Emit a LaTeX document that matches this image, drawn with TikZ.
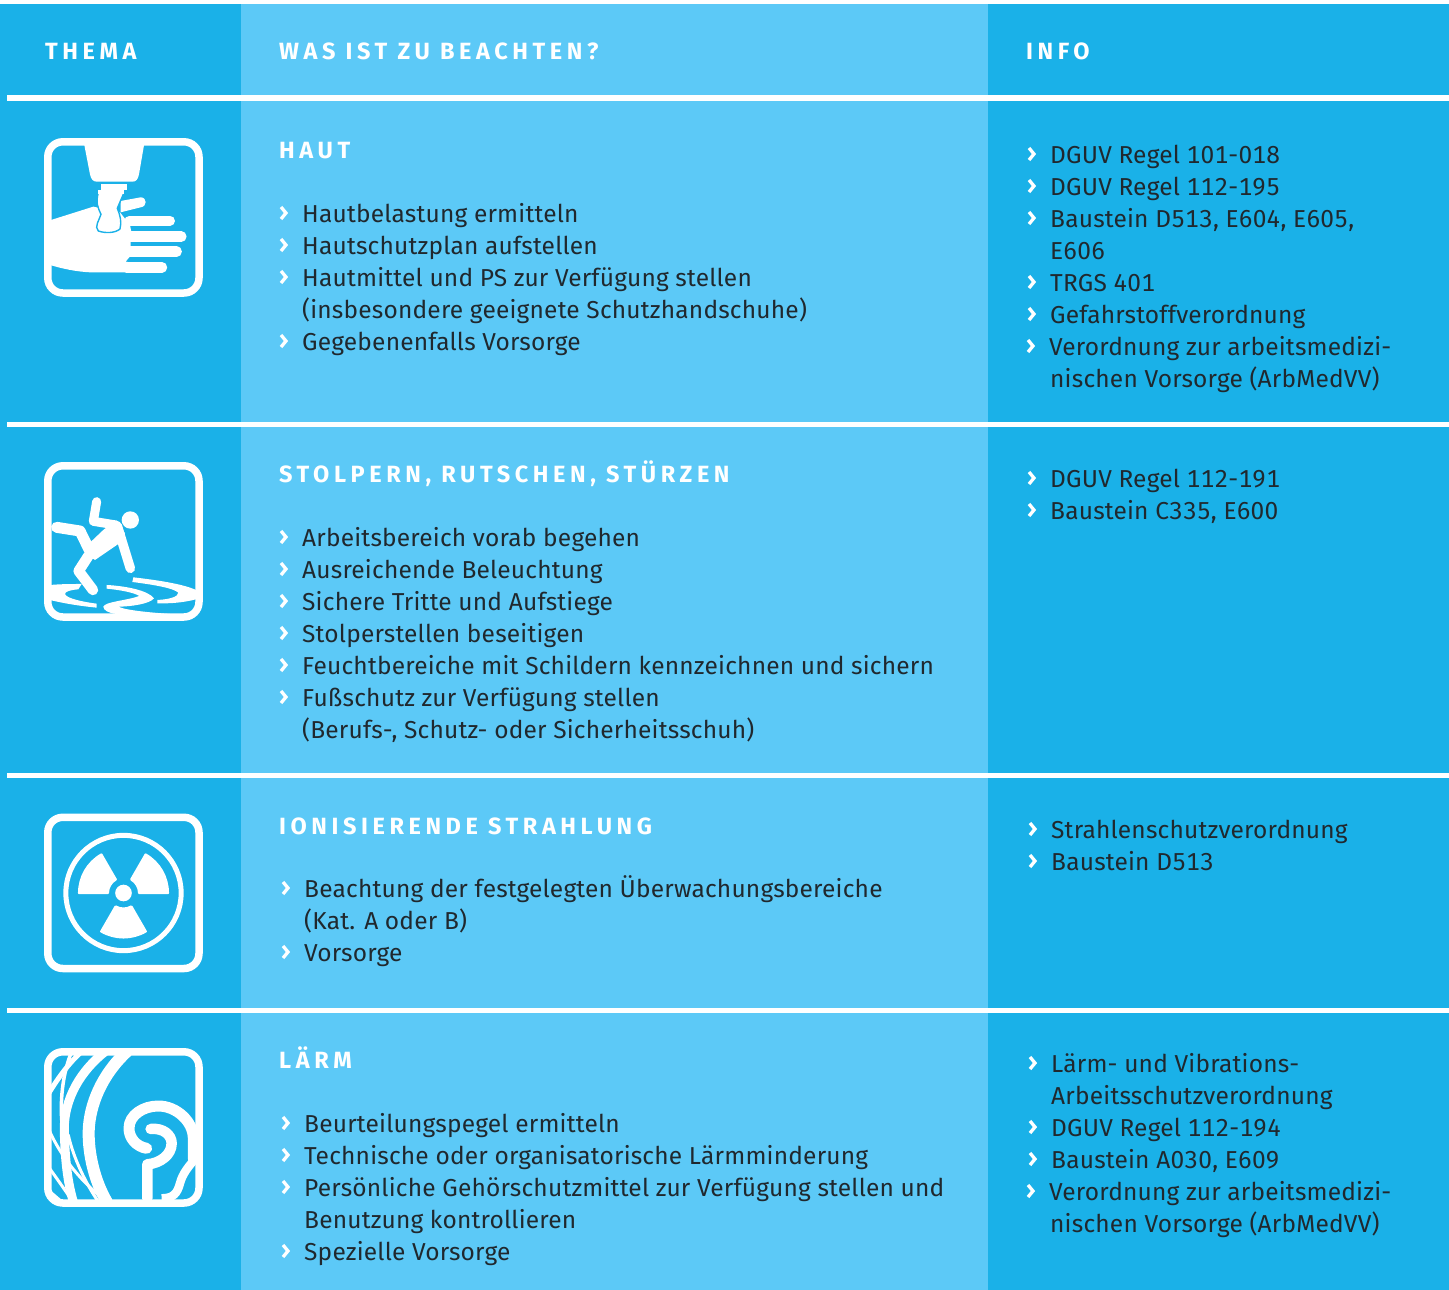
\documentclass[tikz,border=0pt]{standalone}
\usepackage{fontspec}
\setmainfont{Fira Sans}
\newfontfamily\bodyf[LetterSpace=0.8,Numbers=Monospaced]{Fira Sans}
\newfontfamily\headf[LetterSpace=19.5]{Fira Sans}
\definecolor{dk}{HTML}{1AB1E8}
\definecolor{lt}{HTML}{5CC9F7}
\definecolor{ink}{HTML}{20282E}
\tikzset{
  bodytext/.style={anchor=base west,inner sep=0pt,text=ink,font=\bodyf\fontsize{24.5}{30}\selectfont},
  headtext/.style={anchor=base west,inner sep=0pt,text=white,font=\headf\bfseries\fontsize{23.5}{28}\selectfont},
  chev/.style={draw=white,line width=3.3pt,miter limit=10},
  rulebar/.style={fill=white},
  iconbox/.style={draw=white,line width=7.5pt,rounded corners=15pt},
  wh/.style={fill=white,draw=none},
  ws/.style={draw=white,line cap=round,line join=round},
  zoomed/.style={shift={(#1)},x=0.3333pt,y=-0.3333pt},
}
\newcount\tn
\newcommand{\tl}[3]{\global\advance\tn by 1 \node[bodytext] (t\the\tn) at (#1,#2) {#3};}
\newcommand{\li}[3]{\draw[chev] (#1-21,#2-15)--(#1-16,#2-9)--(#1-21,#2-3); \tl{#1}{#2}{#3}}
\newcommand{\hd}[3]{\global\advance\tn by 1 \node[headtext] (t\the\tn) at (#1,#2) {#3};}
\newcommand{\ibox}[1]{\draw[iconbox] (47.8,#1+3.8) rectangle (199,#1+155);}
\begin{document}
\begin{tikzpicture}[x=1pt,y=-1pt]
\useasboundingbox (0,0) rectangle (1449,1290);
\fill[white] (0,0) rectangle (1449,1290);
\fill[dk] (0,4) rectangle (241,1290);
\fill[lt] (241,4) rectangle (988,1290);
\fill[dk] (988,4) rectangle (1449,1290);
\foreach \yy in {95,421.5,772.5,1007.5}{\fill[rulebar] (7,\yy) rectangle (1449,\yy+5.5);}

% header
\hd{45}{59.5}{THEMA}
\hd{279}{59.5}{WAS IST ZU BEACHTEN?}
\hd{1026}{59.5}{INFO}

% section 1
\hd{279}{158.5}{HAUT}
\li{302}{222}{Hautbelastung ermitteln}
\li{302}{254}{Hautschutzplan aufstellen}
\li{302}{286}{Hautmittel und PS zur Verfügung stellen}
\tl{302}{318}{(insbesondere geeignete Schutzhandschuhe)}
\li{302}{350}{Gegebenenfalls Vorsorge}
\li{1050}{163}{DGUV Regel 101-018}
\li{1050}{195}{DGUV Regel 112-195}
\li{1050}{227}{Baustein D513, E604, E605,}
\tl{1050}{259}{E606}
\li{1050}{291}{TRGS 401}
\li{1050}{323}{Gefahrstoffverordnung}
\li{1049}{355}{Verordnung zur arbeitsmedizi-}
\tl{1050}{387}{nischen Vorsorge (ArbMedVV)}

% section 2
\hd{279}{482.5}{STOLPERN, RUTSCHEN, STÜRZEN}
\li{302}{546}{Arbeitsbereich vorab begehen}
\li{302}{578}{Ausreichende Beleuchtung}
\li{302}{610}{Sichere Tritte und Aufstiege}
\li{302}{642}{Stolperstellen beseitigen}
\li{302}{674}{Feuchtbereiche mit Schildern kennzeichnen und sichern}
\li{302}{706}{Fußschutz zur Verfügung stellen}
\tl{302}{738}{(Berufs-, Schutz- oder Sicherheitsschuh)}
\li{1050}{487}{DGUV Regel 112-191}
\li{1050}{519}{Baustein C335, E600}

% section 3
\hd{279}{834.5}{IONISIERENDE STRAHLUNG}
\li{304}{897}{Beachtung der festgelegten Überwachungsbereiche}
\tl{304}{929}{(Kat. A oder B)}
\li{304}{961}{Vorsorge}
\li{1051}{838}{Strahlenschutzverordnung}
\li{1051}{870}{Baustein D513}

% section 4
\hd{279}{1068.5}{LÄRM}
\li{304}{1132}{Beurteilungspegel ermitteln}
\li{304}{1164}{Technische oder organisatorische Lärmminderung}
\li{304}{1196}{Persönliche Gehörschutzmittel zur Verfügung stellen und}
\tl{304}{1228}{Benutzung kontrollieren}
\li{304}{1260}{Spezielle Vorsorge}
\li{1051}{1072}{Lärm- und Vibrations-}
\tl{1051}{1104}{Arbeitsschutzverordnung}
\li{1051}{1136}{DGUV Regel 112-194}
\li{1051}{1168}{Baustein A030, E609}
\li{1049}{1200}{Verordnung zur arbeitsmedizi-}
\tl{1050}{1232}{nischen Vorsorge (ArbMedVV)}

% icon 1: hand
\begin{scope}[zoomed={30pt,-125pt}]
\fill[white] (162,55) -- (343,55) -- (327,148) .. controls (324,163) and (318,170) .. (308,170) -- (200,170) .. controls (190,170) and (183,163) .. (180,148) -- cycle;
\fill[white] (212,177) rectangle (291,195);
% palm
\fill[white] (60,286) -- (190,245) -- (270,262) -- (300,300) -- (304,320) -- (302,350) -- (302,392) -- (287,410) -- (300,412) -- (300,442) -- (180,442) .. controls (140,440) and (100,432) .. (60,420) -- cycle;
% fingers
\fill[white] (272,228) -- (332,217) .. controls (352,217) and (352,245) .. (332,247) -- (272,262) -- cycle;
\draw[ws,line width=10pt] (298,287) -- (420,287);
\draw[ws,line width=10.5pt] (302,335) -- (454,335);
\draw[ws,line width=10.5pt] (298,380) -- (440,380);
\draw[ws,line width=10.5pt] (290,427) -- (396,427);
% cream
\fill[white,draw=dk,line width=1.4pt] (205,203) .. controls (196,235) and (205,250) .. (213,268) .. controls (208,285) and (192,305) .. (205,318) .. controls (225,325) and (255,325) .. (270,312) .. controls (276,290) and (270,270) .. (262,250) .. controls (268,235) and (275,220) .. (282,203) -- cycle;
\fill[white] (205,196) rectangle (282,206);
\end{scope}
\ibox{138}

% icon 2: person slipping
\begin{scope}[zoomed={30pt,-450pt}]
\fill[white] (301,210) circle[radius=26];
\draw[ws,line width=9pt] (200,155) -- (190,214) -- (258,225);
\draw[ws,line width=9.5pt] (262,228) -- (301,355);
\fill[white] (260,212) -- (222,238) -- (183,275) -- (168,312) -- (195,330) -- (265,282) -- (285,250) -- cycle;
\draw[ws,line width=11pt] (80,232) -- (150,243) -- (178,300);
\draw[ws,line width=10.5pt] (175,318) -- (146,363) -- (189,420);
% puddles
\fill[white] (60,405) .. controls (95,402) and (125,402) .. (155,402) -- (145,418) .. controls (120,420) and (105,425) .. (105,432) .. controls (108,445) and (160,456) .. (200,461) -- (200,473) .. controls (150,468) and (100,460) .. (60,450) -- cycle;
\fill[white] (230,405) .. controls (290,408) and (355,422) .. (372,445) .. controls (360,462) and (300,470) .. (265,470) .. controls (290,482) and (370,488) .. (420,492) -- (260,492) .. controls (235,490) and (220,480) .. (220,470) .. controls (225,455) and (290,452) .. (328,438) .. controls (310,427) and (270,420) .. (230,416) -- cycle;
\fill[white] (310,382) .. controls (380,390) and (460,402) .. (498,420) -- (498,448) .. controls (460,458) and (420,461) .. (382,460) -- (382,450) .. controls (420,448) and (445,440) .. (445,428) .. controls (430,414) and (370,404) .. (307,396) -- cycle;
\end{scope}
\ibox{462}

% icon 3: radiation
\begin{scope}[shift={(123.5pt,-893pt)},x=0.3333pt,y=0.3333pt]
\draw[white,line width=5pt] (0,0) circle[radius=173];
\fill[white] (0,0) circle[radius=25];
\foreach \a in {0,120,240}{
  \filldraw[white,line width=2.4pt,line join=round,rotate=\a]
    (0:47) -- (0:133) arc[start angle=0,end angle=60,radius=133] -- (60:47) arc[start angle=60,end angle=0,radius=47] -- cycle;
}
\end{scope}
\ibox{813.5}

% icon 4: ear and sound waves
\begin{scope}
\clip[rounded corners=15pt] (47.8,1051.8) rectangle (199,1203);
\begin{scope}[zoomed={30pt,-1035pt}]
\draw[ws,line width=12pt] (290,50) .. controls (215,120) and (178,210) .. (176,290) .. controls (175,360) and (195,440) .. (230,500);
\draw[ws,line width=9pt] (225,50) .. controls (155,105) and (100,190) .. (103,290) .. controls (105,370) and (112,440) .. (130,500);
\draw[ws,line width=5pt] (155,50) .. controls (115,85) and (80,135) .. (50,185);
\draw[ws,line width=3.5pt] (125,50) .. controls (100,110) and (85,200) .. (100,300);
\draw[ws,line width=3pt] (55,280) .. controls (85,350) and (140,430) .. (230,500);
\draw[ws,line width=3pt] (115,300) .. controls (130,370) and (170,450) .. (205,500);
\draw[ws,line width=3pt] (55,395) .. controls (80,430) and (105,465) .. (125,495);
\draw[ws,line width=2.5pt] (55,465) -- (90,495);
% ear
\draw[ws,line width=11pt] (350,340) .. controls (320,335) and (297,310) .. (297,280) .. controls (297,240) and (340,213) .. (385,213) .. controls (440,213) and (490,260) .. (490,310) -- (490,372);
\draw[draw=white,line width=8.5pt] (505,360) .. controls (475,395) and (458,415) .. (450,445) .. controls (442,475) and (430,490) .. (395,490);
\draw[ws,line width=10.5pt] (362,282) .. controls (400,278) and (425,300) .. (425,325) .. controls (425,360) and (390,385) .. (352,388) -- (352,490);
\end{scope}
\end{scope}
\ibox{1048}
\end{tikzpicture}
\end{document}
